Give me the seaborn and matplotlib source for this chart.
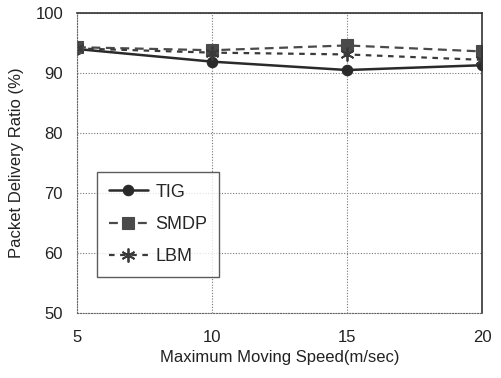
import matplotlib
matplotlib.use("Agg")
import matplotlib.pyplot as plt
import seaborn as sns
import pandas as pd

speeds = [5, 10, 15, 20]
tig = [94.0, 91.9, 90.5, 91.3]
smdp = [94.3, 93.8, 94.6, 93.6]
lbm = [94.1, 93.4, 93.1, 92.2]

sns.set_style("white")
plt.rcParams["font.family"] = ["Liberation Sans", "DejaVu Sans"]

df = pd.DataFrame({
    "speed": speeds * 3,
    "pdr": tig + smdp + lbm,
    "protocol": ["TIG"] * 4 + ["SMDP"] * 4 + ["LBM"] * 4,
})

fig = plt.figure(figsize=(5.01, 3.78), dpi=100)
ax = fig.add_axes([0.1537, 0.172, 0.8083, 0.7935])

styles = {
    "TIG": dict(marker="o", linestyle="-", color="#2a2a2a", markersize=7.5,
                linewidth=1.8, markeredgewidth=0.8),
    "SMDP": dict(marker="s", linestyle=(0, (4, 2.5)), color="#4a4a4a", markersize=8,
                 linewidth=1.6, markeredgewidth=0.8),
    "LBM": dict(marker=(6, 2, 0), linestyle=(0, (2.5, 2.5)), color="#3a3a3a", markersize=10,
                linewidth=1.6, markeredgewidth=1.3),
}
for name in ["TIG", "SMDP", "LBM"]:
    sub = df[df["protocol"] == name]
    st = styles[name]
    sns.lineplot(data=sub, x="speed", y="pdr", ax=ax, label=name,
                 markeredgecolor=st["color"], **st)

ax.set_xlim(5, 20)
ax.set_ylim(50, 100)
ax.set_xticks(speeds)
ax.set_yticks([50, 60, 70, 80, 90, 100])
ax.grid(True, color="#777777", linestyle=(0, (1, 1.5)), linewidth=0.8)
ax.tick_params(axis="x", length=0, labelsize=12, pad=12, colors="#222222")
ax.tick_params(axis="y", length=0, labelsize=12, pad=10, colors="#222222")

for side in ["left", "bottom"]:
    ax.spines[side].set_linestyle((0, (1, 1.5)))
    ax.spines[side].set_color("#666666")
    ax.spines[side].set_linewidth(0.8)
for side in ["top", "right"]:
    ax.spines[side].set_color("#333333")
    ax.spines[side].set_linewidth(1.2)

ax.set_xlabel("Maximum Moving Speed(m/sec)", fontsize=12, color="#222222", labelpad=4)
ax.set_ylabel("Packet Delivery Ratio (%)", fontsize=12, color="#222222", labelpad=8)

leg = ax.legend(loc="lower left", bbox_to_anchor=(0.049, 0.12), borderaxespad=0,
                fontsize=13, frameon=True, fancybox=False, edgecolor="#333333",
                handlelength=2.2, labelspacing=0.85, borderpad=0.65, handletextpad=0.4)
leg.get_frame().set_linewidth(1.0)

fig.savefig("out.png", dpi=100)
